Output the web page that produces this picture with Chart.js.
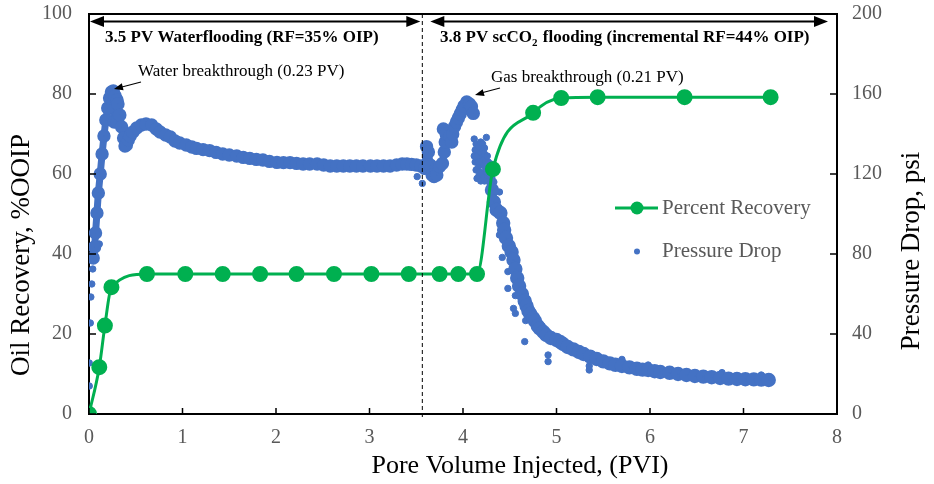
<!DOCTYPE html>
<html>
<head>
<meta charset="utf-8">
<script src="https://cdn.jsdelivr.net/npm/chart.js@4.4.0/dist/chart.umd.min.js"></script>
<style>
  html, body { margin: 0; padding: 0; background: #fff; }
  #wrap { width: 934px; height: 484px; }
</style>
</head>
<body>
<div id="wrap"><canvas id="grafico"></canvas></div>
<script>
// Percent Recovery (left axis, %OOIP)
const recoveryPVI = [0, 0.11, 0.17, 0.24, 0.62, 1.03, 1.43, 1.83, 2.22, 2.62, 3.02, 3.42, 3.75, 3.95, 4.15, 4.32, 4.75, 5.05, 5.44, 6.37, 7.29];
const recoveryPct = [0, 11.7, 22.1, 31.7, 35, 35, 35, 35, 35, 35, 35, 35, 35, 35, 35, 61.2, 75.3, 79, 79.2, 79.2, 79.2];

// Pressure Drop (right axis, psi) - dense band, waterflood + early gas
const waterPVI = [0.045, 0.06, 0.07, 0.085, 0.10, 0.12, 0.14, 0.16, 0.18, 0.20, 0.22, 0.24, 0.26, 0.28, 0.30, 0.31,
  0.27, 0.30, 0.33, 0.35, 0.37, 0.385, 0.40, 0.42, 0.44, 0.47, 0.51, 0.56, 0.61, 0.67, 0.72, 0.76, 0.82, 0.87, 0.92, 0.97,
  1.04, 1.10, 1.15, 1.22, 1.29, 1.36, 1.43, 1.50, 1.58, 1.65, 1.72, 1.79, 1.86, 1.93, 2.01, 2.08, 2.15, 2.22, 2.29, 2.36,
  2.44, 2.51, 2.58, 2.65, 2.72, 2.79, 2.86, 2.93, 3.01, 3.08, 3.15, 3.22, 3.29, 3.35, 3.40, 3.45, 3.50, 3.55,
  3.59, 3.61, 3.63, 3.65, 3.67, 3.69, 3.72, 3.75, 3.78, 3.80, 3.81, 3.79, 3.82, 3.86, 3.88, 3.89, 3.91, 3.93, 3.95, 3.97,
  3.99, 4.01, 4.04, 4.07, 4.09, 4.11];
const waterPsi = [78, 83.5, 90.5, 100.5, 110.5, 120, 130, 139, 147, 153, 158, 161, 161.5, 159, 157, 155,
  146, 146, 149.5, 143.5, 138, 134, 134.5, 137, 139, 141, 143, 144.5, 145, 144.5, 142.5, 141, 139.5, 138.5, 136.5, 135.5,
  134.5, 133.5, 132.8, 132.2, 131.7, 130.8, 130, 129.5, 129, 128.3, 127.8, 127.3, 127, 126.3, 125.8, 125.7, 125.7, 125.3, 125, 125,
  125, 124.5, 124, 124, 124, 124, 124, 124, 124, 124, 124, 124, 124.5, 125, 125, 124.8, 124.5, 124,
  122.8, 133.7, 131, 124.5, 119.5, 118.7, 119.5, 123.7, 125.3, 131, 136, 142.5, 140, 139, 136, 140, 143.7, 146, 148, 150,
  152, 154, 156, 155, 153.7, 150.3];

// Pressure Drop - decline after gas breakthrough
const declinePVI = [4.31, 4.33, 4.36, 4.40, 4.43, 4.44, 4.46, 4.49, 4.52, 4.54, 4.56, 4.58, 4.60, 4.63, 4.66, 4.68, 4.70, 4.72,
  4.75, 4.77, 4.80, 4.82, 4.86, 4.89, 4.94, 5.00, 5.04, 5.07, 5.12, 5.18, 5.24, 5.29, 5.36, 5.43, 5.50, 5.57, 5.63, 5.70,
  5.78, 5.86, 5.92, 5.98, 6.05, 6.11, 6.21, 6.30, 6.39, 6.48, 6.57, 6.66, 6.75, 6.84, 6.93, 7.02, 7.11, 7.19, 7.27];
const declinePsi = [112, 106, 102, 100.5, 95.5, 92, 88, 84, 81, 77, 72.5, 68, 64, 60, 56.5, 54, 51.5, 50,
  48, 46.5, 44, 42.8, 41, 39.5, 38, 37, 36, 35, 33.5, 32.3, 31, 30, 28.7, 27.5, 26.3, 25.3, 24.6, 24,
  23.3, 22.6, 22.2, 22, 21.4, 21, 20.6, 20, 19.5, 19, 18.7, 18.4, 18, 17.7, 17.5, 17.4, 17.3, 17.2, 17];

// Pressure Drop - loose points
const loosePVI = [0, 0.003, 0.003, 0.014, 0.02, 0.03, 0.04, 0.11,
  0.25, 0.27, 0.29, 0.31, 0.26, 0.385, 3.51, 3.565,
  4.12, 4.25, 4.13, 4.15, 4.18, 4.20, 4.22, 4.13, 4.16, 4.18, 4.21, 4.24, 4.27, 4.15, 4.17, 4.20, 4.22, 4.25, 4.28, 4.31, 4.32, 4.27, 4.14, 4.19, 4.29,
  4.14, 4.17, 4.19, 4.21, 4.23, 4.12, 4.14, 4.17, 4.23, 4.26, 4.28, 4.30, 4.16, 4.18, 4.24, 4.26, 4.29, 4.23, 4.33, 4.30,
  4.39, 4.39, 4.42, 4.48, 4.48, 4.56, 4.54, 4.56, 4.67, 4.66, 4.91, 4.91, 5.35, 5.35,
  5.70, 5.98, 6.77, 7.19, 5.14, 4.68];
const loosePsi = [0.5, 14, 25.5, 45.5, 58.5, 65, 72.5, 85,
  155, 158, 156, 152, 150, 133, 118.7, 115.3,
  137.5, 138.3, 132, 131, 130, 132.8, 128, 126, 128, 124.5, 125, 127, 126, 117.8, 119, 120, 119.5, 121, 122, 117.8, 122, 117, 122, 116.5, 115,
  135, 134, 136, 135, 133, 129, 128.5, 126, 130, 129, 124, 125, 123, 121, 123, 118.5, 119.5, 116.5, 116, 121,
  111, 89.5, 78.3, 71.2, 62.8, 59.2, 52.8, 50.3, 46.7, 36.2, 29.5, 26.2, 22, 24,
  27.3, 24.5, 20.7, 19.5, 32, 55.3];

const xTicks = [0, 1, 2, 3, 4, 5, 6, 7, 8];
const leftTicks = [0, 20, 40, 60, 80, 100];
const rightTicks = [0, 40, 80, 120, 160, 200];

const verde = '#00B050';
const azul = '#4472C4';
const cinza = '#595959';
const fonte = '"Liberation Serif", "Times New Roman", serif';

function pares(xs, ys) {
  return xs.map((x, i) => ({ x: x, y: ys[i] }));
}

function seta(ctx, x1, y1, x2, y2, len, half) {
  const ang = Math.atan2(y2 - y1, x2 - x1);
  ctx.beginPath();
  ctx.moveTo(x2, y2);
  ctx.lineTo(x2 - len * Math.cos(ang) + half * Math.sin(ang), y2 - len * Math.sin(ang) - half * Math.cos(ang));
  ctx.lineTo(x2 - len * Math.cos(ang) - half * Math.sin(ang), y2 - len * Math.sin(ang) + half * Math.cos(ang));
  ctx.closePath();
  ctx.fill();
}

// axis box sizes fixed so the plot area sits where the original does
function caixa(w, h) {
  return s => {
    if (w) s.width = w;
    if (h) s.height = h;
    s.paddingTop = 0; s.paddingBottom = 0; s.paddingLeft = 0; s.paddingRight = 0;
  };
}

const extras = {
  id: 'extras',
  afterDatasetsDraw(chart) {
    const ctx = chart.ctx;
    const a = chart.chartArea;
    const sx = chart.scales.x, sy = chart.scales.y, sy1 = chart.scales.y1;
    ctx.save();

    // top frame line
    ctx.strokeStyle = '#000';
    ctx.lineWidth = 2;
    ctx.beginPath();
    ctx.moveTo(a.left - 1, a.top);
    ctx.lineTo(a.right + 1, a.top);
    ctx.stroke();

    // ticks pointing inward
    ctx.lineWidth = 1.5;
    ctx.beginPath();
    xTicks.forEach(v => { const p = sx.getPixelForValue(v); ctx.moveTo(p, a.bottom); ctx.lineTo(p, a.bottom - 6); });
    leftTicks.forEach(v => { const p = sy.getPixelForValue(v); ctx.moveTo(a.left, p); ctx.lineTo(a.left + 7, p); });
    rightTicks.forEach(v => { const p = sy1.getPixelForValue(v); ctx.moveTo(a.right, p); ctx.lineTo(a.right - 7, p); });
    ctx.stroke();

    // dashed divider
    const xd = sx.getPixelForValue(3.565);
    ctx.lineWidth = 1;
    ctx.setLineDash([4, 3]);
    ctx.beginPath();
    ctx.moveTo(xd, a.top);
    ctx.lineTo(xd, a.bottom + 6);
    ctx.stroke();
    ctx.setLineDash([]);

    // double arrows
    ctx.fillStyle = '#000';
    ctx.lineWidth = 2;
    const ya = a.top + 7.5;
    [[a.left + 1, xd - 2], [xd + 8, a.right - 9]].forEach(([x1, x2]) => {
      ctx.beginPath();
      ctx.moveTo(x1 + 10, ya);
      ctx.lineTo(x2 - 10, ya);
      ctx.stroke();
      seta(ctx, x2, ya, x1, ya, 14, 5.5);
      seta(ctx, x1, ya, x2, ya, 14, 5.5);
    });

    // phase labels
    ctx.textBaseline = 'middle';
    ctx.textAlign = 'left';
    ctx.font = 'bold 17px ' + fonte;
    ctx.fillText('3.5 PV Waterflooding (RF=35% OIP)', 105, 38);
    let xt = 440;
    const p1 = '3.8 PV scCO';
    ctx.fillText(p1, xt, 38);
    xt += ctx.measureText(p1).width;
    ctx.font = 'bold 11px ' + fonte;
    ctx.fillText('2', xt, 43);
    xt += ctx.measureText('2').width + 1;
    ctx.font = 'bold 17px ' + fonte;
    ctx.fillText(' flooding (incremental RF=44% OIP)', xt, 38);

    // breakthrough notes
    ctx.font = '17px ' + fonte;
    ctx.fillText('Water breakthrough (0.23 PV)', 138, 72);
    ctx.fillText('Gas breakthrough (0.21 PV)', 491, 78);
    ctx.lineWidth = 1.2;
    ctx.beginPath(); ctx.moveTo(141, 82); ctx.lineTo(120, 87.5); ctx.stroke();
    seta(ctx, 141, 82, 114, 89, 9, 3.5);
    ctx.beginPath(); ctx.moveTo(500, 88); ctx.lineTo(481, 93); ctx.stroke();
    seta(ctx, 500, 88, 475, 95, 9, 3.5);

    // legend
    ctx.strokeStyle = verde;
    ctx.fillStyle = verde;
    ctx.lineWidth = 3;
    ctx.beginPath(); ctx.moveTo(615, 208); ctx.lineTo(658, 208); ctx.stroke();
    ctx.beginPath(); ctx.arc(637, 208, 6.5, 0, Math.PI * 2); ctx.fill();
    ctx.fillStyle = azul;
    ctx.beginPath(); ctx.arc(637, 251.5, 3, 0, Math.PI * 2); ctx.fill();
    ctx.fillStyle = cinza;
    ctx.font = '21px ' + fonte;
    ctx.fillText('Percent Recovery', 662, 208);
    ctx.fillText('Pressure Drop', 662, 251);

    // axis titles
    ctx.fillStyle = '#000';
    ctx.font = '26px ' + fonte;
    ctx.textAlign = 'center';
    ctx.fillText('Pore Volume Injected, (PVI)', 520, 466);
    ctx.font = '27px ' + fonte;
    ctx.save();
    ctx.translate(22, 255);
    ctx.rotate(-Math.PI / 2);
    ctx.fillText('Oil Recovery, %OOIP', 0, 0);
    ctx.restore();
    ctx.save();
    ctx.translate(912, 251);
    ctx.rotate(-Math.PI / 2);
    ctx.fillText('Pressure Drop, psi', 0, 0);
    ctx.restore();

    ctx.restore();
  }
};

const grafico = document.getElementById('grafico');

new Chart(grafico, {
  type: 'scatter',
  data: {
    datasets: [{
      label: 'Percent Recovery',
      data: pares(recoveryPVI, recoveryPct),
      showLine: true,
      borderColor: verde,
      backgroundColor: verde,
      borderWidth: 3,
      pointRadius: 6.5,
      pointHoverRadius: 6.5,
      cubicInterpolationMode: 'monotone',
      yAxisID: 'y',
      order: 0
    },
    {
      label: 'Pressure Drop',
      data: pares(waterPVI, waterPsi),
      showLine: true,
      borderColor: azul,
      backgroundColor: azul,
      borderWidth: 7,
      borderJoinStyle: 'round',
      borderCapStyle: 'round',
      pointRadius: 3.2,
      tension: 0,
      yAxisID: 'y1',
      order: 1
    },
    {
      label: 'Pressure Drop (decline)',
      data: pares(declinePVI, declinePsi),
      showLine: true,
      borderColor: azul,
      backgroundColor: azul,
      borderWidth: 8,
      borderJoinStyle: 'round',
      borderCapStyle: 'round',
      pointRadius: 3.2,
      tension: 0,
      yAxisID: 'y1',
      order: 2
    },
    {
      label: 'Pressure Drop (points)',
      data: pares(loosePVI, loosePsi),
      borderColor: azul,
      backgroundColor: azul,
      pointRadius: 3.2,
      yAxisID: 'y1',
      order: 3
    }]
  },
  options: {
    responsive: true,
    maintainAspectRatio: false,
    animation: false,
    devicePixelRatio: 1,
    layout: { padding: { top: 14, left: 0, right: 0, bottom: 0 } },
    plugins: {
      legend: { display: false },
      tooltip: { enabled: false }
    },
    scales: {
      x: {
        type: 'linear',
        min: 0,
        max: 8,
        afterFit: caixa(0, 70),
        afterBuildTicks: s => { s.ticks = xTicks.map(v => ({ value: v })); },
        ticks: { color: cinza, padding: 12, font: { family: fonte, size: 20 } },
        grid: { display: false, drawTicks: false },
        border: { display: true, color: '#000', width: 2 }
      },
      y: {
        position: 'left',
        min: 0,
        max: 100,
        afterFit: caixa(89, 0),
        afterBuildTicks: s => { s.ticks = leftTicks.map(v => ({ value: v })); },
        ticks: { color: cinza, padding: 17, font: { family: fonte, size: 20 } },
        grid: { display: false, drawTicks: false },
        border: { display: true, color: '#000', width: 2 }
      },
      y1: {
        position: 'right',
        min: 0,
        max: 200,
        afterFit: caixa(97, 0),
        afterBuildTicks: s => { s.ticks = rightTicks.map(v => ({ value: v })); },
        ticks: { color: cinza, padding: 15, font: { family: fonte, size: 20 } },
        grid: { display: false, drawTicks: false },
        border: { display: true, color: '#000', width: 2 }
      }
    }
  },
  plugins: [extras]
});
</script>
</body>
</html>
